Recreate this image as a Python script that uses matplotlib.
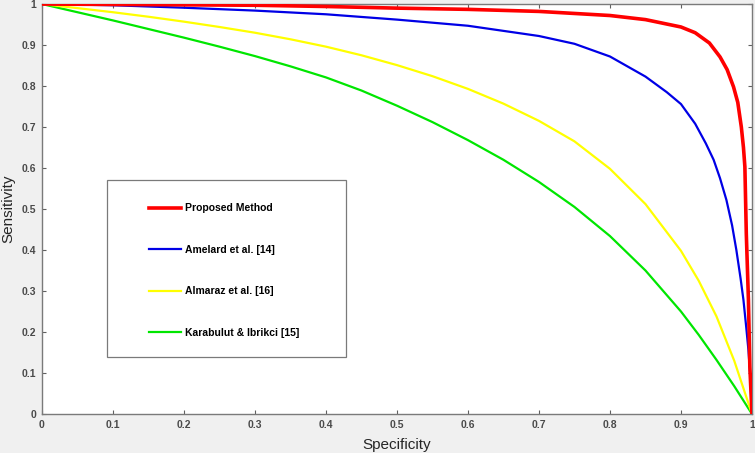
import matplotlib.pyplot as plt
from matplotlib.patches import Rectangle

# values
proposed_x = [0, 0.1, 0.2, 0.3, 0.4, 0.5, 0.6, 0.7, 0.8, 0.85, 0.9, 0.92, 0.94, 0.955, 0.965,
              0.974, 0.98, 0.985, 0.988, 0.990, 0.992, 0.995, 0.997, 1.0]
proposed_y = [1, 0.999, 0.998, 0.997, 0.994, 0.990, 0.987, 0.982, 0.972, 0.962, 0.944, 0.930, 0.905, 0.871, 0.840,
              0.798, 0.760, 0.700, 0.650, 0.603, 0.44, 0.278, 0.115, 0.0]

amelard_x = [0, 0.1, 0.2, 0.3, 0.4, 0.5, 0.6, 0.7, 0.75, 0.8, 0.85, 0.88, 0.9, 0.92, 0.935, 0.946,
             0.955, 0.964, 0.972, 0.978, 0.984, 0.988, 0.992, 0.995, 0.998, 1.0]
amelard_y = [1, 0.997, 0.991, 0.984, 0.975, 0.962, 0.947, 0.922, 0.903, 0.872, 0.823, 0.785, 0.756, 0.708, 0.660, 0.620,
             0.575, 0.522, 0.460, 0.400, 0.330, 0.278, 0.210, 0.156, 0.080, 0.0]

almaraz_x = [0, 0.05, 0.1, 0.15, 0.2, 0.25, 0.3, 0.35, 0.4, 0.45, 0.5, 0.55, 0.6, 0.65, 0.7,
             0.75, 0.8, 0.85, 0.9, 0.925, 0.95, 0.975, 1.0]
almaraz_y = [1, 0.99, 0.98, 0.969, 0.957, 0.944, 0.930, 0.914, 0.896, 0.875, 0.851, 0.824, 0.793, 0.757, 0.715,
             0.665, 0.598, 0.512, 0.398, 0.325, 0.238, 0.13, 0.0]

karabulut_x = [0, 0.05, 0.1, 0.15, 0.2, 0.25, 0.3, 0.35, 0.4, 0.45, 0.5, 0.55, 0.6, 0.65, 0.7,
               0.75, 0.8, 0.85, 0.9, 0.925, 0.95, 0.975, 1.0]
karabulut_y = [1, 0.98, 0.96, 0.939, 0.918, 0.896, 0.873, 0.848, 0.821, 0.789, 0.752, 0.712, 0.668, 0.620, 0.566,
               0.505, 0.434, 0.350, 0.250, 0.193, 0.132, 0.068, 0.0]

labels = ["Proposed Method", "Amelard et al. [14]", "Almaraz et al. [16]", "Karabulut & Ibrikci [15]"]
ticks = [0, 0.1, 0.2, 0.3, 0.4, 0.5, 0.6, 0.7, 0.8, 0.9, 1]
tick_labels = ["0", "0.1", "0.2", "0.3", "0.4", "0.5", "0.6", "0.7", "0.8", "0.9", "1"]

plt.rcParams["font.family"] = ["Liberation Sans", "DejaVu Sans"]

fig = plt.figure(figsize=(7.55, 4.53), dpi=100, facecolor="#f0f0f0")
ax = fig.add_axes([0.0556, 0.0861, 0.9404, 0.905])
ax.set_facecolor("white")

ax.plot(proposed_x, proposed_y, color="#ff0000", lw=2.6, label=labels[0], zorder=5)
ax.plot(amelard_x, amelard_y, color="#0000e6", lw=1.6, label=labels[1], zorder=4)
ax.plot(almaraz_x, almaraz_y, color="#ffff00", lw=1.6, label=labels[2], zorder=3)
ax.plot(karabulut_x, karabulut_y, color="#00e600", lw=1.6, label=labels[3], zorder=2)

ax.set_xlim(0, 1)
ax.set_ylim(0, 1)
ax.set_xticks(ticks)
ax.set_yticks(ticks)
ax.set_xticklabels(tick_labels, fontsize=7.5, fontweight="bold", color="#4a4a4a")
ax.set_yticklabels(tick_labels, fontsize=7.5, fontweight="bold", color="#4a4a4a")
ax.tick_params(direction="in", length=3, width=0.8, color="#606060",
               top=True, right=True, pad=4)
for s in ax.spines.values():
    s.set_color("#7a7a7a")
    s.set_linewidth(1.0)

ax.set_xlabel("Specificity", fontsize=11, color="#262626", labelpad=6)
ax.set_ylabel("Sensitivity", fontsize=11, color="#262626")
ax.yaxis.set_label_coords(-0.037, 0.5)

# legend box drawn by hand so the padding matches
ax.add_patch(Rectangle((0.0915, 0.139), 0.337, 0.432, transform=ax.transAxes,
                       facecolor="white", edgecolor="#7a7a7a", lw=0.9, zorder=6))
leg = ax.legend(loc="upper left", bbox_to_anchor=(0.151, 0.514), frameon=False,
                borderpad=0, borderaxespad=0, handlelength=3.1, handletextpad=0.35,
                labelspacing=3.02, prop={"size": 7.5, "weight": "bold"})
leg.set_zorder(7)

fig.savefig("out.png", dpi=100, facecolor=fig.get_facecolor())
